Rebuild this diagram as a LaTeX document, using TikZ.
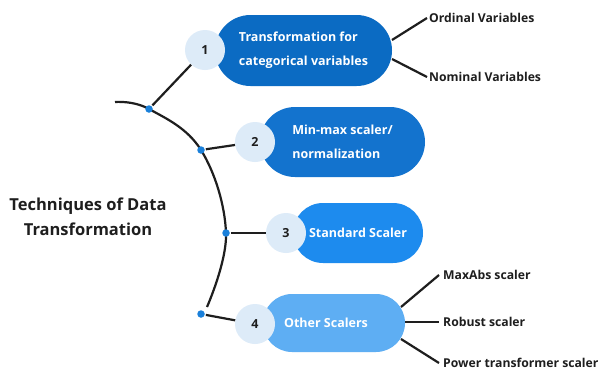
\documentclass[tikz,border=0pt]{standalone}
\usepackage{fontspec}
\setmainfont{Open Sans}
\usetikzlibrary{shapes.misc}
\definecolor{bA}{HTML}{0B6BC3}
\definecolor{bB}{HTML}{1373CE}
\definecolor{bC}{HTML}{1D8BEE}
\definecolor{bD}{HTML}{5EAEF3}
\definecolor{circ}{HTML}{DDEBF8}
\definecolor{dotc}{HTML}{1A80DA}
\definecolor{ink}{HTML}{1E1E1E}
\tikzset{
  pill/.style={rounded rectangle, draw=none, text=white, font=\bfseries\fontsize{12.5}{24}\selectfont, align=left, inner sep=0pt},
  numc/.style={circle, fill=circ, draw=none, minimum size=40pt, inner sep=0pt, text=ink, font=\bfseries\fontsize{12.5}{15}\selectfont},
  leaf/.style={anchor=west, text=ink, font=\bfseries\fontsize{12.2}{14}\selectfont, inner sep=0pt},
  link/.style={draw=ink, line width=2.2pt},
  dotn/.style={circle, fill=dotc, minimum size=7.5pt, inner sep=0pt},
}
\begin{document}
\begin{tikzpicture}[x=1pt,y=-1pt]
\useasboundingbox (0,0) rectangle (601,370);
\fill[white] (0,0) rectangle (601,370);
% title
\node[text=ink, font=\bfseries\fontsize{16.5}{25}\selectfont, align=center] (title) at (88,217) {Techniques of Data\\Transformation};
% arc
\coordinate (s) at (115,102);
\coordinate (e) at (207,307);
\draw[link] plot[smooth, tension=0.65] coordinates {(s) (149,109) (201,150) (226,233) (e)};
\node[dotn] (d1) at (149,109) {};
\node[dotn] (d2) at (201,150) {};
\node[dotn] (d3) at (226,233) {};
\node[dotn] (d4) at (201,314) {};
% pills
\node[pill, fill=bA, minimum width=177pt, minimum height=71pt] (b1) at (303.5,50.5) {Transformation for\\categorical variables};
\node[pill, fill=bB, minimum width=165pt, minimum height=70pt] (b2) at (342.5,142) {Min-max scaler/\\normalization};
\node[pill, fill=bC, minimum width=130pt, minimum height=60pt] (b3) at (358,233) {Standard Scaler};
\node[pill, fill=bD, minimum width=142pt, minimum height=58pt] (b4) at (334,323) {\hspace*{-16pt}Other Scalers};
% number circles
\node[numc] (c1) at (205,50) {1};
\node[numc] (c2) at (255,142) {2};
\node[numc] (c3) at (286,233) {3};
\node[numc] (c4) at (255,324) {4};
% connectors dots -> circles
\draw[link, shorten <=1pt] (d1) -- (c1);
\draw[link, shorten <=1pt] (d2) -- (c2);
\draw[link, shorten <=1pt] (d3) -- (c3);
\draw[link, shorten <=1pt] (d4) -- (c4);
% leaves
\node[leaf] (o1) at (429,18) {Ordinal Variables};
\node[leaf] (o2) at (429,77) {Nominal Variables};
\node[leaf] (l1) at (443,275) {MaxAbs scaler};
\node[leaf] (l2) at (443,322) {Robust scaler};
\node[leaf] (l3) at (443,363) {Power transformer scaler};
\draw[link] (392,40) -- ([xshift=-2pt]o1.west);
\draw[link] (392,59) -- ([xshift=-2pt]o2.west);
\draw[link] (401,307) -- ([xshift=-4pt]l1.west);
\draw[link] (405,322) -- ([xshift=-4pt]l2.west);
\draw[link] (401,339) -- ([xshift=-4pt]l3.west);
\end{tikzpicture}
\end{document}
